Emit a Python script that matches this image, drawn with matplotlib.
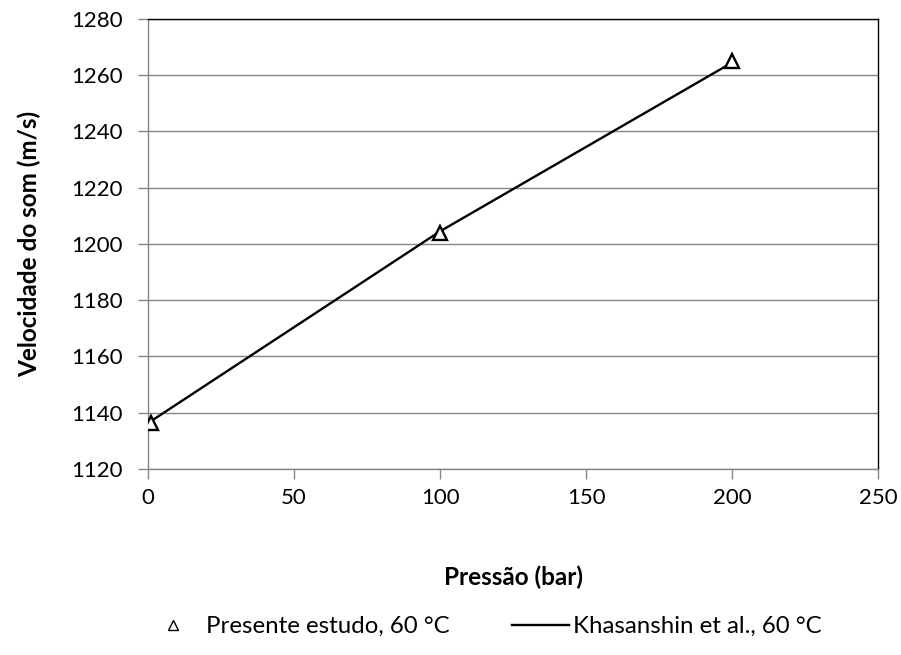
import matplotlib.pyplot as plt
from matplotlib.lines import Line2D

plt.rcParams['font.family'] = ['Lato', 'DejaVu Sans']

# medições deste estudo a 60 °C
p_estudo = [1, 100, 200]
c_estudo = [1136.5, 1204, 1265]

# Khasanshin et al. a 60 °C
p_khas = [1, 100, 200]
c_khas = [1137, 1204.5, 1264.5]

cinza = '#868686'

fig = plt.figure(figsize=(9.01, 6.55), dpi=100)
ax = fig.add_axes([0.1643, 0.284, 0.8102, 0.687])

ax.plot(p_khas, c_khas, color='black', lw=1.7, zorder=3)
ax.plot(p_estudo, c_estudo, ls='none', marker='^', ms=10, mfc='white',
        mec='black', mew=1.7, zorder=4)

ax.set_xlim(0, 250)
ax.set_ylim(1120, 1280)
ax.set_xticks(range(0, 251, 50))
ax.set_yticks(range(1120, 1281, 20))

ax.grid(axis='y', color=cinza, lw=1)
ax.set_axisbelow(True)

for lado in ('top', 'right'):
    ax.spines[lado].set_color('black')
    ax.spines[lado].set_linewidth(1)
for lado in ('left', 'bottom'):
    ax.spines[lado].set_color(cinza)
    ax.spines[lado].set_linewidth(1)

ax.tick_params(axis='both', direction='out', length=7, width=1, color=cinza,
               labelsize=16, labelcolor='black')
ax.tick_params(axis='y', pad=11)
ax.tick_params(axis='x', pad=7)

ax.set_xlabel('Pressão (bar)', fontsize=17.5, fontweight='bold', labelpad=41)
ax.set_ylabel('Velocidade do som (m/s)', fontsize=17.5, fontweight='bold', labelpad=22)

handles = [
    Line2D([], [], ls='none', marker='^', ms=7, mfc='white', mec='black', mew=1),
    Line2D([], [], color='black', lw=1.7),
]
fig.legend(handles, ['Presente estudo, 60 °C', 'Khasanshin et al., 60 °C'],
           loc='center', bbox_to_anchor=(0.536, 0.043), ncol=2, frameon=False,
           fontsize=17.3, handlelength=2.4, handletextpad=0.15, columnspacing=2.6)

fig.savefig('out.png', dpi=100)
